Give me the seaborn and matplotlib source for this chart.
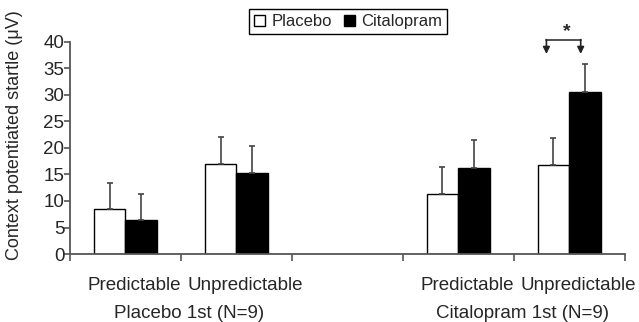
import numpy as np
import pandas as pd
import seaborn as sns
import matplotlib.pyplot as plt
from matplotlib.patches import Patch

# bar slots along the x axis (the empty one is the gap between the two groups)
slots = ["P1 Predictable", "P1 Unpredictable", "gap", "C1 Predictable", "C1 Unpredictable"]
slot_labels = ["Predictable", "Unpredictable", "", "Predictable", "Unpredictable"]
group_labels = ["Placebo 1st (N=9)", "Citalopram 1st (N=9)"]
treatments = ["Placebo", "Citalopram"]

data_slots = ["P1 Predictable", "P1 Unpredictable", "C1 Predictable", "C1 Unpredictable"]
placebo_mean = [8.4, 16.9, 11.4, 16.8]
placebo_err = [5.0, 5.2, 5.0, 5.0]
citalopram_mean = [6.4, 15.3, 16.3, 30.6]
citalopram_err = [5.0, 5.0, 5.2, 5.2]

df = pd.DataFrame({
    "slot": data_slots * 2,
    "treatment": ["Placebo"] * 4 + ["Citalopram"] * 4,
    "value": placebo_mean + citalopram_mean,
    "err": placebo_err + citalopram_err,
})

sns.set_style("white")
plt.rcParams["font.family"] = ["Liberation Sans", "DejaVu Sans"]

fig = plt.figure(figsize=(6.39, 3.22), dpi=100)
ax = fig.add_axes([0.1095, 0.211, 0.868, 0.6595])

sns.barplot(data=df, x="slot", y="value", hue="treatment", order=slots,
            hue_order=treatments, palette={"Placebo": "white", "Citalopram": "black"},
            edgecolor="black", linewidth=1.0, width=0.57, gap=0, errorbar=None,
            legend=False, ax=ax)

# upper-only error bars at each bar's centre
for bar in ax.patches:
    xc = bar.get_x() + bar.get_width() / 2
    h = bar.get_height()
    row = df[np.isclose(df["value"], h)].iloc[0]
    ax.errorbar(xc, h, yerr=[[0], [row["err"]]], fmt="none", ecolor="#444444",
                elinewidth=1.2, capsize=2.5, capthick=1.2)

ax.set_xlim(-0.5, 4.5)
ax.set_ylim(0, 40)
ax.set_yticks(range(0, 41, 5))
ax.set_xticks(np.arange(-0.5, 4.6, 1))
ax.set_xticklabels([])
ax.set_xlabel("")
ax.set_ylabel("Context potentiated startle (\u03bcV)", fontsize=13)
ax.yaxis.set_label_coords(-0.085, 0.56)
ax.tick_params(axis="y", labelsize=13.5, length=4, width=1.2, color="#555555", pad=0,
               direction="out", left=True)
ax.tick_params(axis="x", length=5, width=1.2, color="#555555", direction="out", bottom=True)
for side in ["top", "right"]:
    ax.spines[side].set_visible(False)
for side in ["left", "bottom"]:
    ax.spines[side].set_color("#555555")
    ax.spines[side].set_linewidth(1.3)

# category and group labels below the axis
for i, lab in enumerate(slot_labels):
    if lab:
        ax.text(i + 0.08, -0.146, lab, transform=ax.get_xaxis_transform(),
                ha="center", va="center", fontsize=13.5)
ax.text(0.57, -0.282, group_labels[0], transform=ax.get_xaxis_transform(),
        ha="center", va="center", fontsize=13.5)
ax.text(3.58, -0.282, group_labels[1], transform=ax.get_xaxis_transform(),
        ha="center", va="center", fontsize=13.5)

# significance bracket over the last pair
bx0, bx1, by, btip = 3.795, 4.104, 40.4, 37.7
ax.plot([bx0, bx1], [by, by], color="#333333", lw=1.2, clip_on=False)
for bx in (bx0, bx1):
    ax.annotate("", xy=(bx, btip), xytext=(bx, by), annotation_clip=False,
                arrowprops=dict(arrowstyle="-|>", color="#222222", lw=1.2,
                                mutation_scale=10, shrinkA=0, shrinkB=0))
ax.text(3.975, 42.0, "*", ha="center", va="center", fontsize=14, fontweight="bold",
        clip_on=False)

handles = [Patch(facecolor="white", edgecolor="black", label="Placebo"),
           Patch(facecolor="black", edgecolor="black", label="Citalopram")]
leg = fig.legend(handles=handles, loc="upper center", bbox_to_anchor=(0.545, 0.972),
                 ncol=2, fancybox=False, edgecolor="black", framealpha=1,
                 fontsize=12, handlelength=0.65, handleheight=0.65, handletextpad=0.4,
                 columnspacing=0.7, borderpad=0.3, borderaxespad=0)
leg.get_frame().set_linewidth(1.0)

fig.savefig("out.png", dpi=100)
